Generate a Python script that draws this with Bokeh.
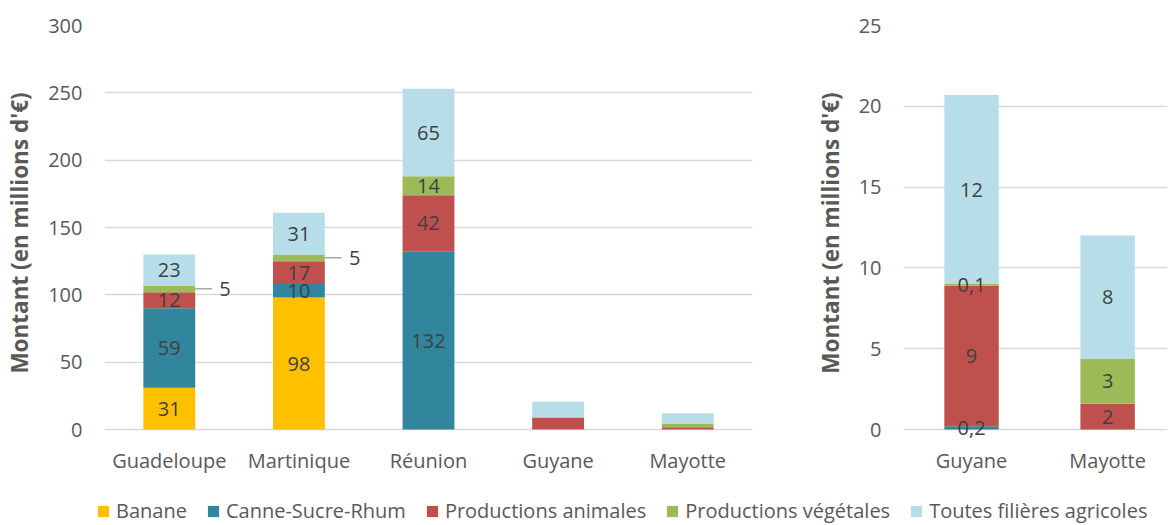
from bokeh.plotting import figure
from bokeh.models import ColumnDataSource, Range1d, FixedTicker, Legend, LegendItem
from bokeh.layouts import column, row
from bokeh.transform import dodge
from bokeh.core.properties import value
from bokeh.embed import file_html
from bokeh.resources import INLINE

# ---------------- data ----------------
regions = ["Guadeloupe", "Martinique", "Réunion", "Guyane", "Mayotte"]
series_names = ["Banane", "Canne-Sucre-Rhum", "Productions animales",
                "Productions végétales", "Toutes filières agricoles"]
banane = [31, 98, 0, 0, 0]
canne = [59, 10, 132, 0.2, 0]
animales = [12, 17, 42, 8.7, 1.6]
vegetales = [5, 5, 14, 0.1, 2.8]
toutes = [23, 31, 65, 11.7, 7.6]
left_ticks = [0, 50, 100, 150, 200, 250, 300]
right_ticks = [0, 5, 10, 15, 20, 25]
zoom_regions = ["Guyane", "Mayotte"]
labelled_left = ["Guadeloupe", "Martinique", "Réunion"]
outside_vegetales = ["Guadeloupe", "Martinique"]
y_title = "Montant (en millions d'€)"

colors = ["#FFC000", "#31859C", "#C0504D", "#9BBB59", "#B7DEE8"]
FONT = "Open Sans"
TICK_COLOR = "#595959"
LABEL_COLOR = "#404040"
GRID = "#D9D9D9"
keys = ["banane", "canne", "animales", "vegetales", "toutes"]
all_series = [banane, canne, animales, vegetales, toutes]

BOTTOM_PAD_PX = 11      # room under the zero line so bottom labels are not clipped
FRAME_H = 405           # pixel height from zero line to the top gridline


def fmt(v):
    return f"{v:.1f}".replace(".", ",") if v < 1 else str(int(round(v)))


def style(p, ticks):
    p.outline_line_color = None
    p.xgrid.visible = False
    p.ygrid.ticker = FixedTicker(ticks=ticks)
    p.ygrid.grid_line_color = GRID
    p.ygrid.grid_line_width = 1.5
    p.yaxis.ticker = FixedTicker(ticks=ticks)
    for ax in (p.xaxis[0], p.yaxis[0]):
        ax.major_tick_line_color = None
        ax.minor_tick_line_color = None
        ax.major_tick_out = 0
        ax.major_tick_in = 0
        ax.minor_tick_out = 0
        ax.minor_tick_in = 0
        ax.axis_line_color = None
        ax.major_label_text_font = FONT
        ax.major_label_text_font_size = "20px"
        ax.major_label_text_color = TICK_COLOR
    p.yaxis.major_label_standoff = 22
    p.xaxis.major_label_standoff = 6
    p.yaxis.axis_label = y_title
    p.yaxis.axis_label_text_font = FONT
    p.yaxis.axis_label_text_font_style = "bold"
    p.yaxis.axis_label_text_font_size = "22.5px"
    p.yaxis.axis_label_text_color = TICK_COLOR
    p.yaxis.axis_label_standoff = 10


def yrange(top):
    return Range1d(-top * BOTTOM_PAD_PX / FRAME_H, top)


def text_kw():
    return dict(text_align="center", text_baseline="middle", text_font=value(FONT),
                text_font_size="20px", text_color=LABEL_COLOR)


H = 476
# ---------------- left chart ----------------
p1 = figure(x_range=regions, y_range=yrange(left_ticks[-1]), width=780, height=H,
            output_backend="svg", toolbar_location=None,
            min_border_left=104, min_border_right=28, min_border_top=25,
            min_border_bottom=35)
src1 = ColumnDataSource(dict(x=regions, **{k: s for k, s in zip(keys, all_series)}))
p1.vbar_stack(keys, x="x", width=0.4, color=colors, line_color=None, source=src1)

lx, ly, lt = [], [], []
ox, oy, ot = [], [], []
for i, reg in enumerate(regions):
    if reg not in labelled_left:
        continue
    cum = 0
    for k, s in zip(keys, all_series):
        v = s[i]
        if v > 0:
            mid = cum + v / 2
            if k == "vegetales" and reg in outside_vegetales:
                ox.append(reg); oy.append(mid); ot.append(fmt(v))
            else:
                lx.append(reg); ly.append(mid); lt.append(fmt(v))
        cum += v
p1.text(x="x", y="y", text="t", source=ColumnDataSource(dict(x=lx, y=ly, t=lt)), **text_kw())
osrc = ColumnDataSource(dict(x=ox, y=oy, t=ot))
p1.segment(x0=dodge("x", 0.2, range=p1.x_range), x1=dodge("x", 0.33, range=p1.x_range),
           y0="y", y1="y", source=osrc, line_color="#A6A6A6", line_width=1.5)
p1.text(x=dodge("x", 0.43, range=p1.x_range), y="y", text="t", source=osrc, **text_kw())
style(p1, left_ticks)

# ---------------- right chart ----------------
idx = [regions.index(r) for r in zoom_regions]
xpos = list(range(len(zoom_regions)))
p2 = figure(x_range=Range1d(-0.5, 1.44), y_range=yrange(right_ticks[-1]), width=387, height=H,
            output_backend="svg", toolbar_location=None,
            min_border_left=123, min_border_right=0, min_border_top=25,
            min_border_bottom=35)
src2 = ColumnDataSource(dict(x=xpos, **{k: [s[i] for i in idx] for k, s in zip(keys, all_series)}))
p2.vbar_stack(keys, x="x", width=0.4, color=colors, line_color=None, source=src2)
rx, ry, rt = [], [], []
for j, i in enumerate(idx):
    cum = 0
    for s in all_series:
        v = s[i]
        if v > 0:
            rx.append(xpos[j]); ry.append(cum + v / 2); rt.append(fmt(v))
        cum += v
p2.text(x="x", y="y", text="t", source=ColumnDataSource(dict(x=rx, y=ry, t=rt)), **text_kw())
style(p2, right_ticks)
p2.xaxis.ticker = FixedTicker(ticks=xpos)
p2.xaxis.major_label_overrides = {x: r for x, r in zip(xpos, zoom_regions)}

# ---------------- legend ----------------
leg = figure(width=1167, height=48, x_range=Range1d(0, 1), y_range=Range1d(0, 1),
             x_axis_type=None, y_axis_type=None, output_backend="svg",
             toolbar_location=None, min_border=0)
leg.outline_line_color = None
leg.grid.visible = False
rends = [leg.vbar(x=[-5], top=[-5], bottom=[-6], width=0.1, color=c, line_color=None)
         for c in colors]
legend = Legend(items=[LegendItem(label=n, renderers=[r]) for n, r in zip(series_names, rends)],
                orientation="horizontal", location=(96, 0), padding=0, margin=0,
                border_line_color=None, background_fill_alpha=0,
                glyph_width=14, glyph_height=14, label_standoff=6, spacing=19,
                label_text_font=FONT, label_text_font_size="20px",
                label_text_color=TICK_COLOR, label_height=14)
leg.add_layout(legend)

layout = column(row(p1, p2), leg)
open("out.html", "w").write(file_html(layout, INLINE))
